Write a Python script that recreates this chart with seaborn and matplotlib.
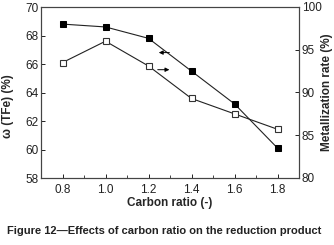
import numpy as np
import pandas as pd
import matplotlib
matplotlib.use("Agg")
import matplotlib.pyplot as plt
import seaborn as sns

# values
carbon_ratio = [0.8, 1.0, 1.2, 1.4, 1.6, 1.8]
tfe = [68.8, 68.6, 67.8, 65.5, 63.2, 60.1]
metallization = [93.5, 96.0, 93.1, 89.3, 87.5, 85.7]

df = pd.DataFrame({"ratio": carbon_ratio, "tfe": tfe, "met": metallization})

sns.set_style("ticks")
plt.rcParams["font.family"] = ["Liberation Sans", "DejaVu Sans"]
plt.rcParams["xtick.direction"] = "in"
plt.rcParams["ytick.direction"] = "in"

fig = plt.figure(figsize=(3.34, 2.45), dpi=100)
ax = fig.add_axes([41 / 334, 1 - 178 / 245, 258 / 334, 171 / 245])
ax2 = ax.twinx()

sns.lineplot(data=df, x="ratio", y="tfe", ax=ax, color="#222222", lw=0.8,
             marker="s", markersize=5, markerfacecolor="black",
             markeredgecolor="black")
sns.lineplot(data=df, x="ratio", y="met", ax=ax2, color="#222222", lw=0.8,
             marker="s", markersize=5, markerfacecolor="white",
             markeredgecolor="#333333", markeredgewidth=0.8)

ax.set_xlim(0.7, 1.9)
ax.set_ylim(58, 70)
ax2.set_ylim(80, 100)
ax.set_xticks([0.8, 1.0, 1.2, 1.4, 1.6, 1.8])
ax.set_xticks(np.arange(0.9, 1.85, 0.2), minor=True)
ax.set_yticks(range(58, 71, 2))
ax2.set_yticks(range(80, 101, 5))

for a in (ax, ax2):
    for s in a.spines.values():
        s.set_color("#444444")
        s.set_linewidth(0.8)
    a.tick_params(labelsize=8.5, length=3, width=0.7, colors="#222222",
                  pad=2)
    a.tick_params(which="minor", length=2, width=0.6)
ax.tick_params(axis="x", pad=4)

ax.set_xlabel("Carbon ratio (-)", fontsize=8.5, fontweight="bold", labelpad=1)
ax.set_ylabel("ω (TFe) (%)", fontsize=8.5, fontweight="bold")
ax.yaxis.set_label_coords(-0.105, 0.42)
ax2.set_ylabel("Metallization rate (%)", fontsize=8.5, fontweight="bold")
ax2.yaxis.set_label_coords(1.085, 0.5)

# arrows pointing to each series' axis
ax.annotate("", xy=(1.235, 66.8), xytext=(1.31, 66.8),
            arrowprops=dict(arrowstyle="-|>", color="black", lw=0.7,
                            mutation_scale=6))
ax.annotate("", xy=(1.31, 65.6), xytext=(1.23, 65.6),
            arrowprops=dict(arrowstyle="-|>", color="black", lw=0.7,
                            mutation_scale=6))

fig.text(0.02, 0.045, "Figure 12\u2014Effects of carbon ratio on the reduction product",
         fontsize=8, fontweight="bold", color="#222222")

fig.savefig("out.png", dpi=100)
